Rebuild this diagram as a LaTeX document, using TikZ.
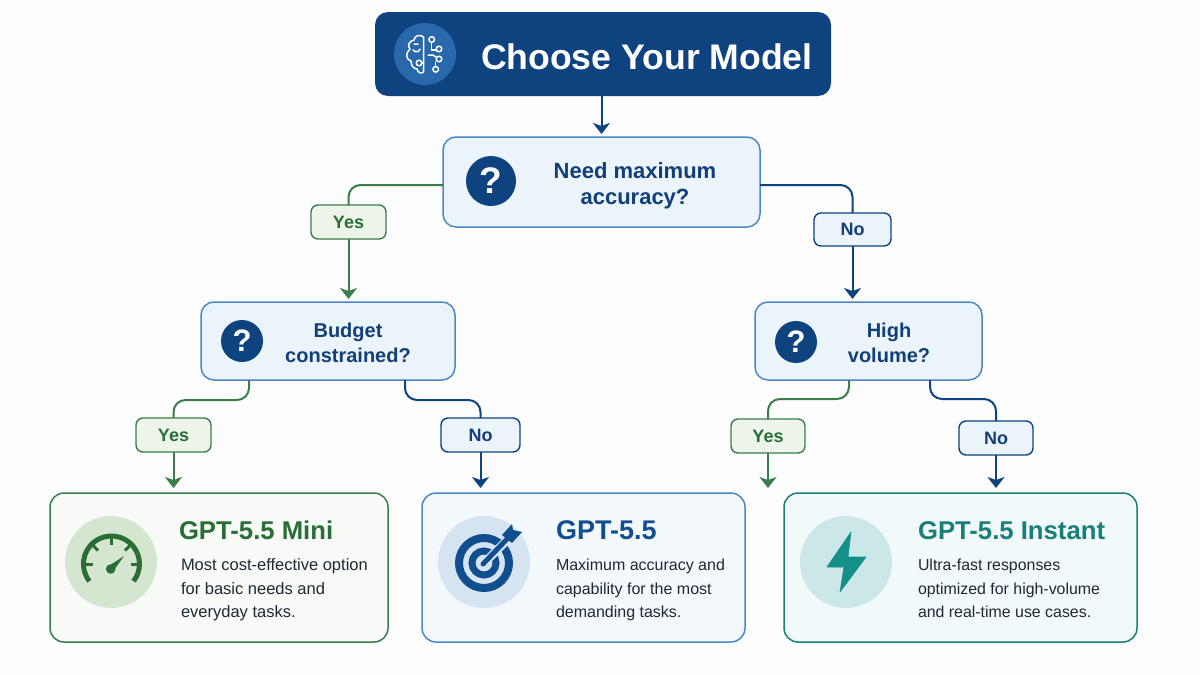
\documentclass[tikz,border=0pt]{standalone}
\usepackage{fontspec}
\setmainfont{Liberation Sans}
\usetikzlibrary{arrows.meta,calc}
\definecolor{navy}{HTML}{0E437F}
\definecolor{navytext}{HTML}{123F7A}
\definecolor{midblue}{HTML}{2A68AC}
\definecolor{qborder}{HTML}{4D88C4}
\definecolor{qfill}{HTML}{EBF3FB}
\definecolor{green}{HTML}{3B7D4C}
\definecolor{greentext}{HTML}{2A6E35}
\definecolor{greenfill}{HTML}{F7FAF6}
\definecolor{labgreen}{HTML}{EDF5EA}
\definecolor{greencirc}{HTML}{D5E6D0}
\definecolor{bluefill}{HTML}{F3F8FC}
\definecolor{bluecirc}{HTML}{D6E4F2}
\definecolor{bluehead}{HTML}{114E90}
\definecolor{teal}{HTML}{1A7F78}
\definecolor{tealfill}{HTML}{F2F9FB}
\definecolor{tealcirc}{HTML}{CBE7E8}
\definecolor{tealicon}{HTML}{14908A}
\definecolor{ink}{HTML}{1F2933}
\definecolor{paper}{HTML}{FDFDFD}
\tikzset{
  x=1pt,y=-1pt,
  every node/.style={outer sep=0pt},
  qbox/.style={fill=qfill,draw=qborder,line width=1.5pt,rounded corners=13pt,anchor=north west,inner sep=0pt},
  qtext/.style={text=navytext,font=\fontsize{22}{26}\selectfont\bfseries,align=center},
  qmark/.style={circle,fill=navy,text=white,inner sep=0pt,font=\bfseries},
  lab/.style={line width=1.4pt,rounded corners=7pt,anchor=north west,inner sep=0pt,minimum height=34pt,font=\fontsize{18}{20}\selectfont\bfseries},
  labg/.style={lab,draw=green,fill=labgreen,text=greentext},
  labb/.style={lab,draw=navy,fill=qfill,text=navytext},
  card/.style={line width=1.5pt,rounded corners=14pt,anchor=north west,inner sep=0pt,minimum height=149pt},
  head/.style={anchor=base west,inner sep=0pt,font=\fontsize{25.7}{28}\selectfont\bfseries},
  body/.style={anchor=north west,inner sep=0pt,align=left,text=ink},
  link/.style={line width=2pt,rounded corners=12pt},
  arr/.style={line width=2pt,-{Stealth[length=11pt,width=17pt,inset=3pt]},shorten >=3pt},
  lnkg/.style={draw=green},
  lnkb/.style={draw=navy},
}
\begin{document}
\begin{tikzpicture}
\useasboundingbox (0,0) rectangle (1200,675);
\fill[paper] (0,0) rectangle (1200,675);

% title
\node[fill=navy,rounded corners=13pt,minimum width=456pt,minimum height=84pt,anchor=north west,inner sep=0pt] (title) at (375,12) {};
\node[circle,fill=midblue,minimum size=62pt,inner sep=0pt] (brainc) at (425,54) {};
\node[anchor=base west,inner sep=0pt,text=white,font=\fontsize{35.6}{40}\selectfont\bfseries] (titlet) at (481,69) {Choose Your Model};
\begin{scope}[line width=1.5pt,draw=white,line cap=round,line join=round,fill=none]
 \draw (423.5,37) .. controls (420,34) and (415,35) .. (414,40) .. controls (409,41) and (407,46) .. (410,49)
   .. controls (405,53) and (406,60) .. (411,61) .. controls (411,67) and (415,69) .. (417,69) .. controls (418,73) and (421,74) .. (423.5,72) -- cycle;
 \draw (413,50) .. controls (416,53) and (419,52) .. (420,49) (414,44) -- (418,44);
 \draw (422,63) -- (423.5,63);
 \draw (431.7,42.5) -- (431.7,50) -- (436,50);
 \draw (428,55) -- (433,55) -- (436.5,57.5);
 \draw (435.7,62) -- (435.7,66.5);
 \foreach \p in {(431.7,39.5),(439,49),(439,59),(435.7,69.3),(419,63)} \draw \p circle (2.8pt);
\end{scope}

% questions
\node[qbox,minimum width=317pt,minimum height=90pt] (q1) at (443,137) {};
\node[qmark,minimum size=50pt,font=\fontsize{37}{40}\selectfont\bfseries] (m1) at (491,181) {?};
\node[qtext] (t1) at (635,186) {Need maximum\\accuracy?};

\node[qbox,minimum width=254pt,minimum height=78pt] (q2) at (201,302) {};
\node[qmark,minimum size=42pt,font=\fontsize{31}{34}\selectfont\bfseries] (m2) at (242,341) {?};
\node[qtext,font=\fontsize{20}{25}\selectfont\bfseries] (t2) at (348,342.5) {Budget\\constrained?};

\node[qbox,minimum width=227pt,minimum height=78pt] (q3) at (755,302) {};
\node[qmark,minimum size=42pt,font=\fontsize{31}{34}\selectfont\bfseries] (m3) at (796,342) {?};
\node[qtext,font=\fontsize{20}{25}\selectfont\bfseries] (t3) at (889,342.5) {High\\volume?};

% labels
\node[labg,minimum width=75pt] (y1) at (311,205) {Yes};
\node[labb,minimum width=77pt,minimum height=33pt] (n1) at (814,213) {No};
\node[labg,minimum width=75pt] (y2) at (136,418) {Yes};
\node[labb,minimum width=79pt] (n2) at (441,418) {No};
\node[labg,minimum width=74pt] (y3) at (731,419) {Yes};
\node[labb,minimum width=74pt] (n3) at (959,421) {No};

% cards
\node[card,draw=green,fill=greenfill,minimum width=338pt] (c1) at (50,493) {};
\node[card,draw=qborder,fill=bluefill,minimum width=323pt] (c2) at (422,493) {};
\node[card,draw=teal,fill=tealfill,minimum width=353pt] (c3) at (784,493) {};

\node[circle,fill=greencirc,minimum size=92pt,inner sep=0pt] (i1) at (111,562) {};
\node[circle,fill=bluecirc,minimum size=92pt,inner sep=0pt] (i2) at (484,562) {};
\node[circle,fill=tealcirc,minimum size=92pt,inner sep=0pt] (i3) at (846,562) {};

\node[head,text=greentext] (h1) at (179,539) {GPT-5.5 Mini};
\node[head,text=bluehead,font=\fontsize{27}{28}\selectfont\bfseries] (h2) at (556,539) {GPT-5.5};
\node[head,text=teal] (h3) at (918,539) {GPT-5.5 Instant};
\node[body,font=\fontsize{16.5}{23.5}\selectfont] (b1) at (181,559) {Most cost-effective option\\for basic needs and\\everyday tasks.};
\node[body,font=\fontsize{16}{23.5}\selectfont] (b2) at (556,559) {Maximum accuracy and\\capability for the most\\demanding tasks.};
\node[body,font=\fontsize{15.9}{23.5}\selectfont] (b3) at (918,559) {Ultra-fast responses\\optimized for high-volume\\and real-time use cases.};

% gauge
\begin{scope}[draw=greentext]
 \draw[line width=5pt] (89.4,581.2) arc[start angle=218,end angle=-38,radius=28pt];
 \foreach \a in {180,135,90,45,0}
   \draw[line width=3pt] ($(111.5,564)+({26*cos(\a)},{-26*sin(\a)})$) -- ($(111.5,564)+({19*cos(\a)},{-19*sin(\a)})$);
 \fill[greentext] (110.7,569) circle (4.8pt);
 \fill[greentext] (108,566.5) -- (124,556) -- (113,571.5) -- cycle;
\end{scope}

% target
\begin{scope}
 \draw[bluehead,line width=8pt] (484,563) circle (25pt);
 \draw[bluehead,line width=7pt] (484,563) circle (12pt);
 \draw[bluecirc,line width=8.5pt] (484,563) -- (510,537);
 \draw[bluehead,line width=5pt,line cap=round] (483,564) -- (508,538);
 \fill[bluehead] (502,535) -- (512,524) -- (513,530) -- (522,532) -- (512,543) -- cycle;
\end{scope}

% bolt
\fill[tealicon,line join=round,draw=tealicon,line width=.6pt] (851,532) -- (827,567) -- (844,567) -- (840,592) -- (866,557) -- (848,557) -- cycle;

% connectors
\path ($(q2.south west)+(48,0)$) coordinate (q2a) ($(q2.south west)+(204,0)$) coordinate (q2b);
\path ($(q3.south west)+(94,0)$) coordinate (q3a) ($(q3.south west)+(175,0)$) coordinate (q3b);
\coordinate (e3) at (769,491);
\coordinate (e4) at (996,491);
\coordinate (e2) at (480,491);
\coordinate (e1) at (174,491);
\draw[link,lnkg] (q1.west |- 0,185) -| (y1.north);
\draw[link,lnkb] (q1.east |- 0,185) -| (n1.north);
\draw[arr,lnkg] (y1.south) -- (y1.south |- q2.north);
\draw[arr,lnkb] (n1.south) -- (n1.south |- q3.north);
\draw[link,lnkg] (q2a) -- ++(0,20) -| (y2.north);
\draw[link,lnkb] (q2b) -- ++(0,20) -| (n2.north);
\draw[link,lnkg] (q3a) -- ++(0,19) -| (y3.north);
\draw[link,lnkb] (q3b) -- ++(0,19) -| (n3.north);
\draw[arr,lnkg] (y2.south) -- (y2.south |- e1);
\draw[arr,lnkb] (n2.south) -- (n2.south |- e2);
\draw[arr,lnkg] (y3.south) -- (y3.south |- e3);
\draw[arr,lnkb] (n3.south) -- (n3.south |- e4);
\draw[arr,lnkb] (q1.north |- title.south) -- (q1.north);
\end{tikzpicture}
\end{document}
